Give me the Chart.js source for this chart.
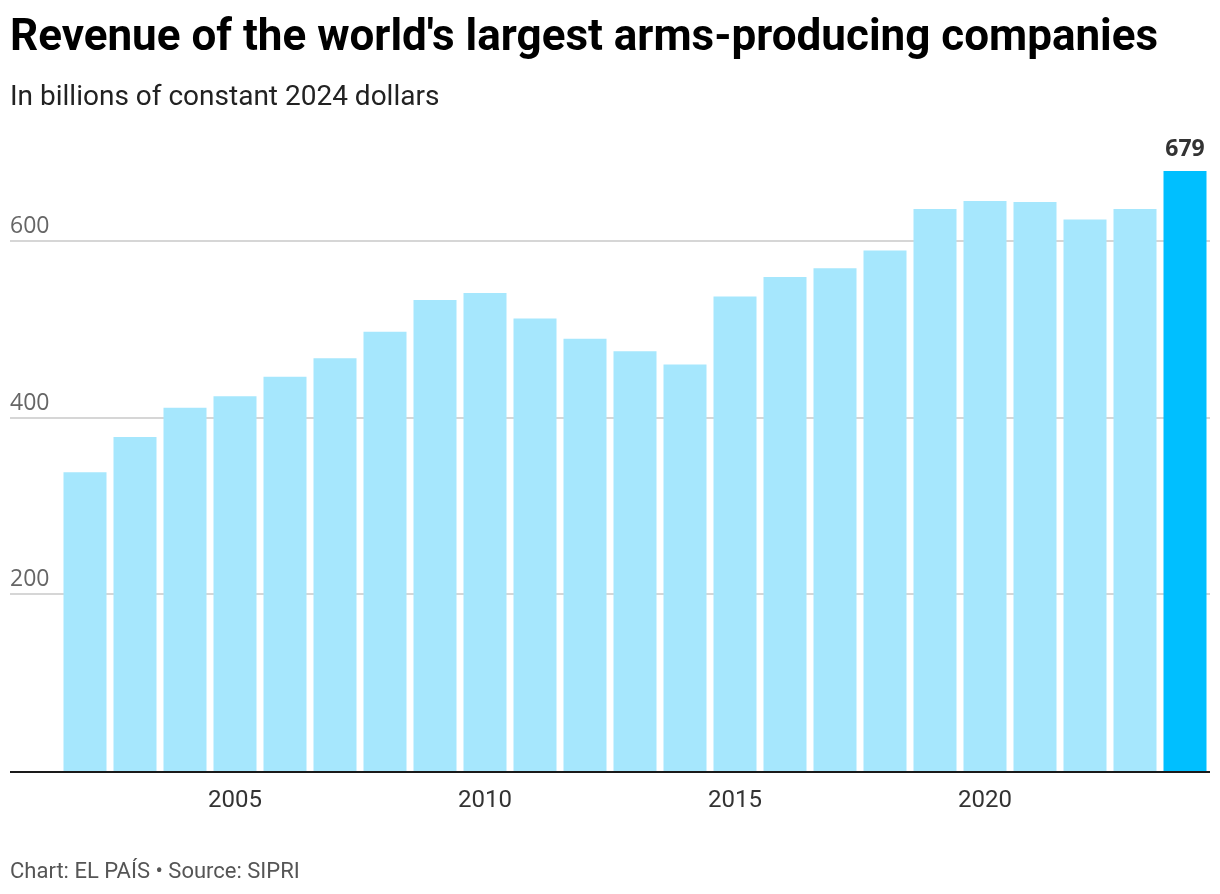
<!DOCTYPE html>
<html>
<head>
<meta charset="utf-8">
<script src="https://cdn.jsdelivr.net/npm/chart.js"></script>
<style>
  html, body { margin: 0; padding: 0; background: #fff; }
  #wrap { width: 1220px; height: 894px; }
</style>
</head>
<body>
<div id="wrap"><canvas id="chart_revenue" width="1220" height="894"></canvas></div>
<script>
// data
const years = ['2002', '2003', '2004', '2005', '2006', '2007', '2008', '2009', '2010', '2011', '2012',
  '2013', '2014', '2015', '2016', '2017', '2018', '2019', '2020', '2021', '2022', '2023', '2024'];
const revenue = [338, 378, 411, 424, 446, 467, 497, 533, 541, 512, 489,
  475, 460, 537, 559, 569, 589, 636, 645, 644, 624, 636, 679];
const yTicks = [200, 400, 600];
const xTickYears = ['2005', '2010', '2015', '2020'];

const title = "Revenue of the world's largest arms-producing companies";
const subtitle = 'In billions of constant 2024 dollars';
const footer = 'Chart: EL PAÍS • Source: SIPRI';

const light = '#a6e7fd';
const strong = '#00bfff';

// gridlines, y labels, baseline, value label and footer
const decor = {
  id: 'decor',
  beforeDatasetsDraw(chart) {
    const ctx = chart.ctx;
    const y = chart.scales.y;
    ctx.save();
    ctx.strokeStyle = '#d6d6d6';
    ctx.lineWidth = 2;
    ctx.fillStyle = '#666';
    ctx.font = '23px "Open Sans"';
    ctx.textAlign = 'left';
    ctx.textBaseline = 'alphabetic';
    yTicks.forEach(v => {
      const py = Math.round(y.getPixelForValue(v));
      ctx.beginPath();
      ctx.moveTo(10, py);
      ctx.lineTo(1210, py);
      ctx.stroke();
      ctx.fillText(String(v), 10, py - 8);
    });
    ctx.restore();
  },
  afterDatasetsDraw(chart) {
    const ctx = chart.ctx;
    const y = chart.scales.y;
    const py = y.getPixelForValue(0);
    ctx.save();
    ctx.strokeStyle = '#1a1a1a';
    ctx.lineWidth = 2;
    ctx.beginPath();
    ctx.moveTo(10, py + 1);
    ctx.lineTo(1210, py + 1);
    ctx.stroke();

    const meta = chart.getDatasetMeta(0);
    const last = meta.data[meta.data.length - 1];
    ctx.fillStyle = '#333';
    ctx.font = 'bold 23px "Open Sans"';
    ctx.textAlign = 'center';
    ctx.textBaseline = 'alphabetic';
    ctx.fillText(String(revenue[revenue.length - 1]), last.x, last.y - 15);

    ctx.fillStyle = '#555';
    ctx.font = '22px Roboto';
    ctx.textAlign = 'left';
    ctx.fillText(footer, 10, 878);
    ctx.restore();
  }
};

new Chart('chart_revenue', {
  type: 'bar',
  data: {
    labels: years,
    datasets: [{
      data: revenue,
      backgroundColor: years.map((_, i) => i === years.length - 1 ? strong : light),
      borderWidth: 0,
      categoryPercentage: 1,
      barPercentage: 0.86
    }]
  },
  options: {
    responsive: false,
    devicePixelRatio: 1,
    animation: false,
    layout: { padding: { left: 10, right: 10, top: 0, bottom: 0 } },
    plugins: {
      legend: { display: false },
      tooltip: { enabled: false },
      title: {
        display: true,
        text: title,
        align: 'start',
        color: '#000',
        font: { family: 'Roboto', size: 44, weight: 'bold', lineHeight: 1.2 },
        padding: { top: 13, bottom: 0 },
        fullSize: true
      },
      subtitle: {
        display: true,
        text: subtitle,
        align: 'start',
        color: '#222',
        font: { family: 'Roboto', size: 28, lineHeight: 1.2 },
        padding: { top: 15, bottom: 38 },
        fullSize: true
      }
    },
    scales: {
      x: {
        grid: { display: false },
        border: { display: false },
        ticks: {
          autoSkip: false,
          maxRotation: 0,
          color: '#333',
          font: { family: 'Roboto', size: 24 },
          padding: 8,
          callback: function (v) {
            const lab = this.getLabelForValue(v);
            return xTickYears.includes(lab) ? lab : '';
          }
        },
        afterFit: s => { s.height = 123; }
      },
      y: {
        min: 0,
        max: 700,
        display: true,
        grid: { display: false },
        border: { display: false },
        ticks: { display: false },
        afterFit: s => { s.width = 50; }
      }
    }
  },
  plugins: [decor]
});
</script>
</body>
</html>
